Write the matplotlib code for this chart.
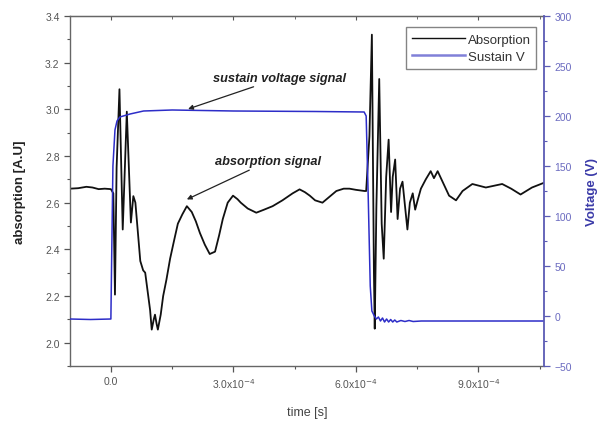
import matplotlib
matplotlib.use("Agg")
import matplotlib.pyplot as plt
import numpy as np

plt.rcParams['font.family'] = ['Liberation Sans', 'DejaVu Sans']

# ---- data (time in units of 1e-4 s) ----
abs_t = [-1.0, -0.8, -0.6, -0.45, -0.3, -0.15, 0.0, 0.06, 0.10, 0.14, 0.21, 0.29, 0.39, 0.49,
         0.55, 0.60, 0.72, 0.79, 0.84, 0.96, 1.00, 1.05, 1.08, 1.12, 1.15, 1.22, 1.28, 1.36,
         1.45, 1.55, 1.64, 1.75, 1.86, 1.98, 2.08, 2.18, 2.30, 2.42, 2.55, 2.65, 2.74, 2.86,
         2.99, 3.10, 3.18, 3.35, 3.56, 3.75, 3.96, 4.20, 4.45, 4.62, 4.75, 4.87, 5.00, 5.18,
         5.35, 5.52, 5.70, 5.84, 6.00, 6.21, 6.25, 6.33, 6.39, 6.44, 6.46, 6.50, 6.57, 6.63,
         6.68, 6.74, 6.80, 6.86, 6.90, 6.96, 7.02, 7.08, 7.14, 7.21, 7.26, 7.32, 7.39, 7.45,
         7.51, 7.59, 7.71, 7.83, 7.91, 8.00, 8.12, 8.28, 8.45, 8.61, 8.85, 9.18, 9.58, 9.80,
         10.03, 10.31, 10.60]
abs_v = [2.660, 2.662, 2.668, 2.665, 2.658, 2.660, 2.658, 2.640, 2.206, 2.750, 3.086, 2.485, 2.990, 2.515,
         2.628, 2.600, 2.350, 2.310, 2.300, 2.140, 2.056, 2.100, 2.120, 2.080, 2.056, 2.120, 2.200, 2.270,
         2.360, 2.440, 2.510, 2.550, 2.585, 2.560, 2.520, 2.470, 2.420, 2.380, 2.390, 2.460, 2.530, 2.600,
         2.630, 2.615, 2.600, 2.575, 2.557, 2.570, 2.585, 2.610, 2.640, 2.657, 2.645, 2.630, 2.610, 2.600,
         2.625, 2.650, 2.660, 2.660, 2.655, 2.650, 2.650, 2.885, 3.320, 2.300, 2.060, 2.580, 3.130, 2.510,
         2.360, 2.710, 2.870, 2.560, 2.710, 2.785, 2.530, 2.660, 2.690, 2.570, 2.485, 2.600, 2.640, 2.570,
         2.610, 2.660, 2.700, 2.735, 2.705, 2.735, 2.690, 2.630, 2.610, 2.650, 2.680, 2.665, 2.680, 2.660,
         2.635, 2.665, 2.685]

volt_t = [-1.0, -0.5, 0.0, 0.02, 0.05, 0.10, 0.15, 0.22, 0.47, 0.8, 1.5, 3.0, 5.0, 6.20, 6.25,
          6.30, 6.35, 6.39, 6.45, 6.50, 6.55, 6.60, 6.65, 6.70, 6.75, 6.80, 6.85, 6.90, 6.95,
          7.00, 7.10, 7.20, 7.30, 7.40, 7.60, 10.60]
volt_v = [-3, -3.5, -3, 60, 150, 186, 195, 199, 202, 205, 206, 205, 204.5, 204, 200,
          120, 30, 5, 0, -3, -1, -5, -2, -6, -3, -6, -3.5, -6, -4,
          -6, -4.5, -5.5, -4.5, -5.5, -5, -5]

xtick_vals = [0.0, 3.0, 6.0, 9.0]
xtick_labels = ['0.0', '3.0x10$^{-4}$', '6.0x10$^{-4}$', '9.0x10$^{-4}$']
scale = 1e-4

grey = '#555555'
blue_line = '#2d2dc8'
blue_axis = '#5a5ab4'
blue_text = '#3a3aa8'

fig = plt.figure(figsize=(6.09, 4.27), dpi=100)
ax = fig.add_axes([0.115, 0.1405, 0.778, 0.8197])
ax2 = ax.twinx()

l1, = ax.plot(np.array(abs_t) * scale, abs_v, color='#111111', lw=1.3, label='Absorption')
l2, = ax2.plot(np.array(volt_t) * scale, volt_v, color=blue_line, lw=1.1, label='Sustain V')

ax.set_xlim(-1.0e-4, 1.06e-3)
ax.set_ylim(1.9, 3.4)
ax2.set_ylim(-50, 300)

ax.set_xticks([v * scale for v in xtick_vals])
ax.set_xticklabels(xtick_labels)
ax.set_xticks([v * scale for v in [1.5, 4.5, 7.5, 10.5]], minor=True)
ax.set_yticks(np.round(np.arange(2.0, 3.41, 0.2), 1))
ax.set_yticks(np.round(np.arange(1.9, 3.41, 0.1), 1), minor=True)
ax.set_yticklabels([f'{v:.1f}' for v in np.arange(2.0, 3.41, 0.2)])
ax2.set_yticks(np.arange(-50, 301, 50))
ax2.set_yticks(np.arange(-50, 301, 25), minor=True)

ax.tick_params(axis='both', which='major', direction='out', length=4, width=0.9,
               colors=grey, labelsize=7.5, top=False)
ax.tick_params(axis='both', which='minor', direction='out', length=2.5, width=0.8, colors=grey)
ax.tick_params(axis='y', which='both', right=False)
ax2.tick_params(axis='y', which='major', direction='out', length=4, width=0.9,
                colors=blue_axis, labelsize=7.5, labelcolor='#6a6ac0')
ax2.tick_params(axis='y', which='minor', direction='out', length=2.5, width=0.8, colors=blue_axis)

# top inward ticks
secx = ax.secondary_xaxis('top')
secx.set_xticks([v * scale for v in xtick_vals])
secx.set_xticks([v * scale for v in [1.5, 4.5, 7.5, 10.5]], minor=True)
secx.tick_params(axis='x', which='both', direction='in', length=3, colors=grey, labeltop=False)
secx.tick_params(axis='x', which='minor', length=2)
secx.spines['top'].set_color('#666666')

for s in ['left', 'bottom', 'top']:
    ax.spines[s].set_color('#666666')
    ax.spines[s].set_linewidth(1.0)
ax.spines['right'].set_visible(False)
for s in ['left', 'bottom', 'top']:
    ax2.spines[s].set_visible(False)
ax2.spines['right'].set_color(blue_axis)
ax2.spines['right'].set_linewidth(1.3)

ax.set_xlabel('time [s]', fontsize=9, color='#444444', labelpad=11)
ax.set_ylabel('absorption [A.U]', fontsize=9.5, color='#222222', fontweight='bold', labelpad=14)
ax2.set_ylabel('Voltage (V)', fontsize=9.5, color=blue_text, fontweight='bold', labelpad=10,
               rotation=90)

leg = ax2.legend(handles=[l1, l2], loc='upper right', bbox_to_anchor=(0.99, 0.975),
                 fontsize=9.5, frameon=True, fancybox=False, edgecolor='#666666',
                 handlelength=4.0, handletextpad=0.2, borderpad=0.45, labelspacing=0.4,
                 borderaxespad=0.2)
leg.get_frame().set_linewidth(1.0)
for t in leg.get_texts():
    t.set_color('#333333')
leg.get_lines()[1].set_color('#8080d8')
leg.get_lines()[1].set_linewidth(1.8)
leg.get_lines()[0].set_linewidth(1.0)

ax2.annotate('sustain voltage signal', xy=(1.89e-4, 207), xytext=(2.5e-4, 238),
             fontsize=9.2, fontstyle='italic', fontweight='bold', color='#222222',
             va='center', ha='left',
             arrowprops=dict(arrowstyle='-|>', color='#222222', lw=0.9,
                             mutation_scale=7, shrinkA=0, shrinkB=0))
ax.annotate('absorption signal', xy=(1.86e-4, 2.614), xytext=(2.55e-4, 2.777),
            fontsize=9.2, fontstyle='italic', fontweight='bold', color='#222222',
            va='center', ha='left',
            arrowprops=dict(arrowstyle='-|>', color='#222222', lw=0.9,
                            mutation_scale=7, shrinkA=0, shrinkB=0))

fig.savefig('out.png', dpi=100)
